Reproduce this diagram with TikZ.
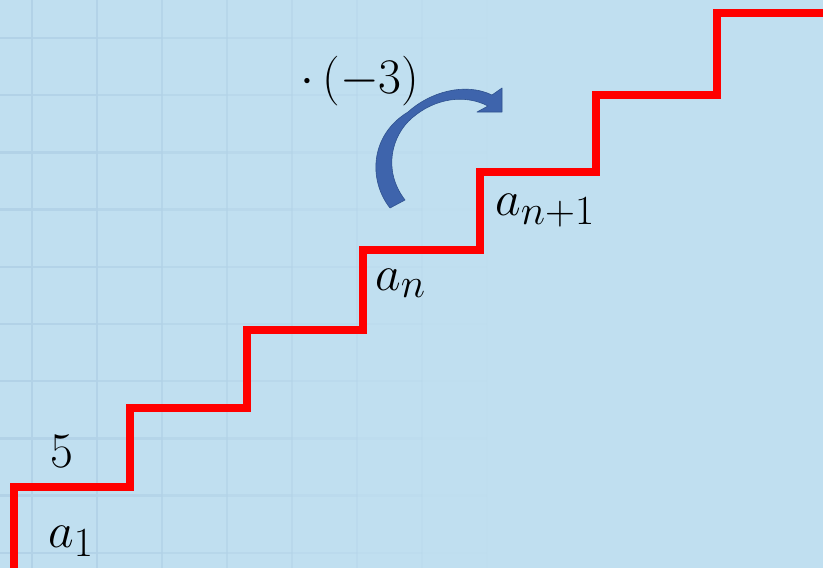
\documentclass[tikz,border=0pt]{standalone}
\usepackage{amsmath}
\usepackage{tikz}
\usetikzlibrary{calc}
\definecolor{SkyBG}{RGB}{192,223,240}
\definecolor{GridLine}{RGB}{178,210,231}
\definecolor{ArrowFill}{RGB}{62,100,172}
\definecolor{ArrowEdge}{RGB}{47,82,143}

\begin{document}
\begin{tikzpicture}[
  x=1pt,y=-1pt,
  stair/.style={draw=red,line width=7.5pt,miter limit=10},
  gridline/.style={draw=GridLine,line width=2.5pt},
  label/.style={inner sep=0pt,anchor=base west,
    font=\fontsize{24.88}{30}\selectfont,scale=2,transform shape}
]
  \useasboundingbox (0,0) rectangle (823,568);
  \clip (0,0) rectangle (823,568);
  \fill[SkyBG] (0,0) rectangle (823,568);

  % faint grid, fading to the right
  \foreach \k in {0,...,8} {
    \pgfmathsetmacro{\op}{max(0,1-\k/7.5)}
    \draw[gridline,opacity=\op] ({32+65*\k},0) -- ({32+65*\k},568);
    \foreach \j in {0,...,9}
      \draw[gridline,opacity=\op] ({32+65*\k-65},{38+57.2*\j}) -- ({32+65*\k},{38+57.2*\j});
  }

  % staircase
  \draw[stair] (14,580) |- (130,487) |- (247,408) |- (363,330)
    |- (480,250) |- (596,172) |- (717,95) |- (840,13);

  % labels
  \node[label] (five) at (50,467) {$5$};
  \node[label] (aone) at (48,547) {$a_1$};
  \node[label] (an) at (375,290) {$a_n$};
  \node[label] (anext) at (495,215) {$a_{n+1}$};
  \node[label] (factor) at (300,93) {$\cdot\,(-3)$};

  % curved arrow
  \filldraw[fill=ArrowFill,draw=ArrowEdge,line width=0.6pt,line join=round]
    (390,208) .. controls (368,180) and (370,135) .. (408,112)
    .. controls (430,92) and (465,82) .. (492,95)
    -- (502,88) -- (502,112) -- (477,112) -- (488,106)
    .. controls (465,94) and (435,98) .. (412,118)
    .. controls (392,135) and (382,170) .. (405,200) -- cycle;
\end{tikzpicture}
\end{document}
